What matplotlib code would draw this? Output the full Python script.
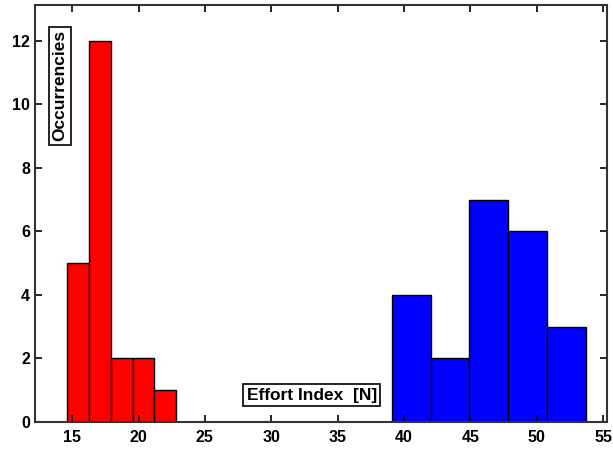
import numpy as np
import matplotlib.pyplot as plt

plt.rcParams['font.family'] = ['Liberation Sans', 'DejaVu Sans']
plt.rcParams['font.weight'] = 'bold'

# histogram bin edges and counts
red_edges = [14.6, 16.25, 17.9, 19.55, 21.2, 22.85]
red_counts = [5, 12, 2, 2, 1]
blue_edges = [39.08, 42.07, 44.9, 47.87, 50.8, 53.7]
blue_counts = [4, 2, 7, 6, 3]

xticks = [15, 20, 25, 30, 35, 40, 45, 50, 55]
yticks = [0, 2, 4, 6, 8, 10, 12]

fig = plt.figure(figsize=(6.13, 4.49), dpi=100)
ax = fig.add_axes([35/613, 1-422/449, 572/613, 417/449])

for edges, counts, col in [(red_edges, red_counts, '#ff0000'),
                           (blue_edges, blue_counts, '#0000ff')]:
    edges = np.array(edges)
    ax.bar(edges[:-1], counts, width=np.diff(edges), align='edge',
           color=col, edgecolor='black', linewidth=1.0)

ax.set_xlim(12.2, 55.3)
ax.set_ylim(0, 13.13)
ax.set_xticks(xticks)
ax.set_yticks(yticks)
ax.tick_params(direction='in', top=True, right=True, length=5, width=1.2,
               labelsize=11.5, colors='black')
ax.tick_params(axis='x', pad=6)
for s in ax.spines.values():
    s.set_linewidth(1.5)
    s.set_color('#333333')

box = dict(boxstyle='square,pad=0.2', facecolor='white', edgecolor='black', linewidth=1.2)
ax.text(0.044, 0.806, 'Occurrencies', transform=ax.transAxes, rotation=90,
        ha='center', va='center', fontsize=12.5, fontweight='bold', bbox=box)
ax.text(0.484, 0.064, 'Effort Index  [N]', transform=ax.transAxes,
        ha='center', va='center', fontsize=12.5, fontweight='bold', bbox=box)

fig.savefig('out.png', dpi=100)
